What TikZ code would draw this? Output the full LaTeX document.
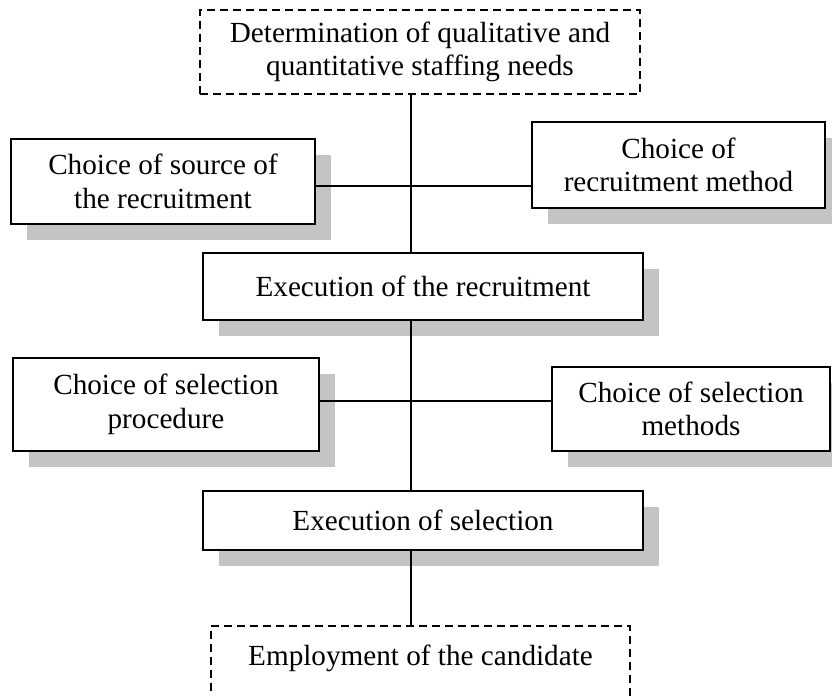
\documentclass[tikz,border=0pt]{standalone}
\usepackage{fontspec}
\setmainfont{Liberation Serif}
\usetikzlibrary{shadows}
\definecolor{shadowgray}{RGB}{196,196,196}
\begin{document}
\begin{tikzpicture}[x=0.5pt,y=-0.5pt,
  font=\fontsize{14.6pt}{16.8pt}\selectfont,
  box/.style={draw, line width=1pt, fill=white, align=center, inner sep=0pt,
     general shadow={fill=shadowgray, draw=none, shadow xshift=8pt, shadow yshift=-8pt}},
  dbox/.style={draw, line width=0.9pt, dash pattern=on 4pt off 2.5pt, fill=white, align=center, inner sep=0pt},
  conn/.style={line width=0.75pt}]
\useasboundingbox (0,0) rectangle (832,696);
\node[dbox, minimum width=220pt, minimum height=42pt] (need) at (420,52) {Determination of qualitative and\\quantitative staffing needs};
\node[box, minimum width=152pt, minimum height=42.5pt] (src) at (163,181.5) {Choice of source of\\the recruitment};
\node[box, minimum width=146.5pt, minimum height=43pt] (meth) at (678.5,165) {Choice of\\recruitment method};
\node[box, minimum width=220pt, minimum height=33.5pt] (recr) at (423,286.5) {Execution of the recruitment};
\node[box, minimum width=153pt, minimum height=46.5pt] (proc) at (166,404.5) {Choice of selection\\procedure};
\node[box, minimum width=139pt, minimum height=42pt] (smeth) at (691,409) {Choice of selection\\methods};
\node[box, minimum width=220pt, minimum height=29.5pt] (sel) at (423,520.5) {Execution of selection};
\node[dbox, minimum width=209.5pt, minimum height=40pt, text height=10pt, text depth=10pt, anchor=north] (emp) at (420.5,625) {Employment of the candidate};
\coordinate (spine) at (411,0);
\coordinate (h1) at (0,186);
\coordinate (h2) at (0,401);
\draw[conn] (need.south -| spine) -- (recr.north -| spine);
\draw[conn] (recr.south -| spine) -- (sel.north -| spine);
\draw[conn] (sel.south -| spine) -- (emp.north -| spine);
\draw[conn] (src.east |- h1) -- (meth.west |- h1);
\draw[conn] (proc.east |- h2) -- (smeth.west |- h2);
\end{tikzpicture}
\end{document}
